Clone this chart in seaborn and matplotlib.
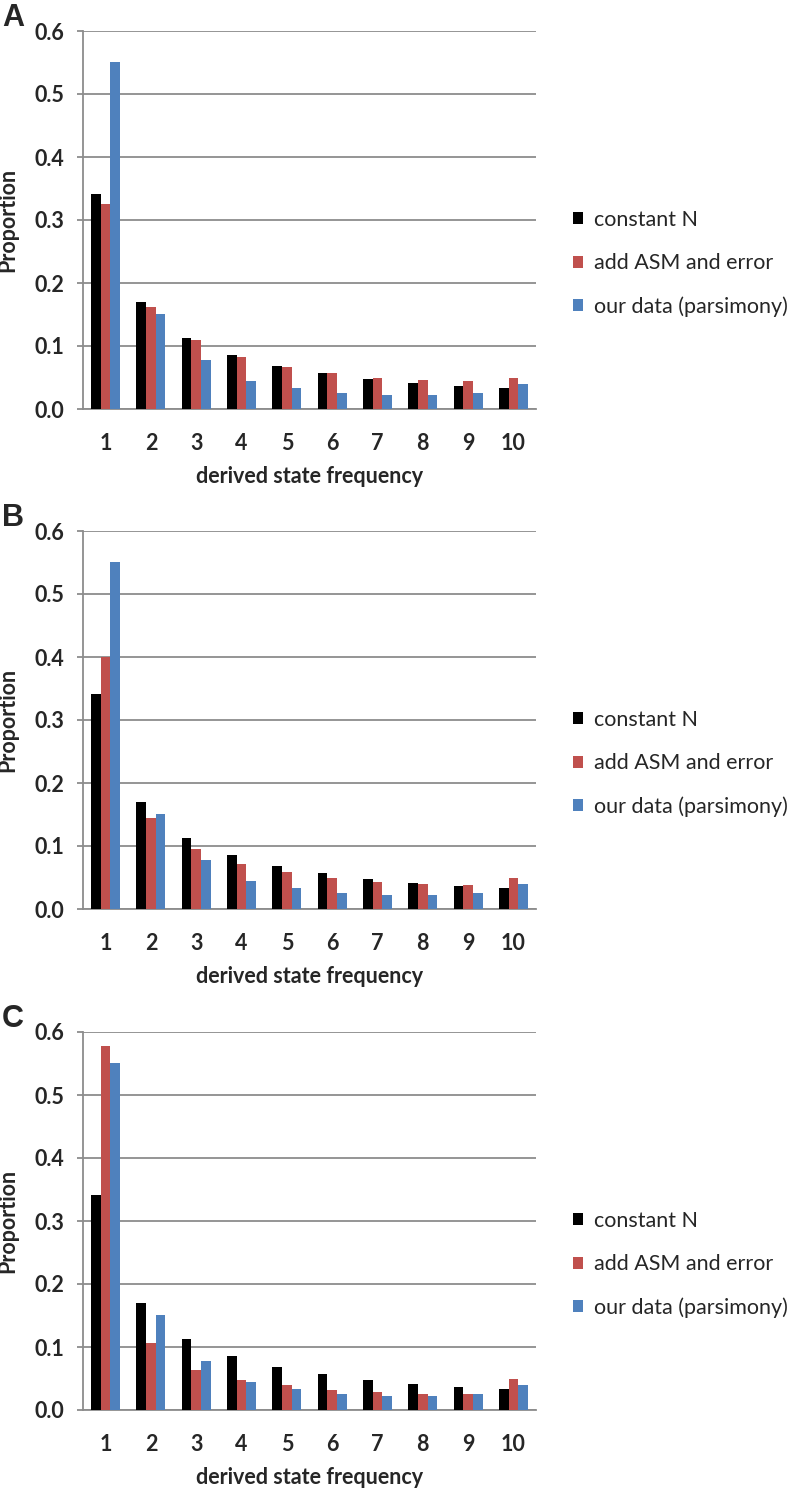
import numpy as np
import pandas as pd
import matplotlib
matplotlib.use('Agg')
import matplotlib.pyplot as plt
from matplotlib.patches import Patch
import seaborn as sns

# values
freq = [1, 2, 3, 4, 5, 6, 7, 8, 9, 10]
constant_n = [0.341, 0.170, 0.113, 0.085, 0.068, 0.057, 0.048, 0.042, 0.037, 0.034]
our_data = [0.551, 0.151, 0.077, 0.044, 0.033, 0.026, 0.023, 0.023, 0.026, 0.040]
asm_error_a = [0.325, 0.162, 0.110, 0.083, 0.067, 0.057, 0.050, 0.046, 0.044, 0.049]
asm_error_b = [0.400, 0.144, 0.096, 0.072, 0.058, 0.049, 0.043, 0.039, 0.038, 0.049]
asm_error_c = [0.577, 0.107, 0.063, 0.047, 0.039, 0.032, 0.028, 0.026, 0.026, 0.049]

series_names = ['constant N', 'add ASM and error', 'our data (parsimony)']
colors = ['#000000', '#C0504D', '#4F81BD']
panel_labels = ['A', 'B', 'C']
y_ticks = [0.0, 0.1, 0.2, 0.3, 0.4, 0.5, 0.6]

sns.set_style('white')
plt.rcParams['font.family'] = ['Lato', 'DejaVu Sans']

W, H = 796, 1490
fig = plt.figure(figsize=(W / 100, H / 100), dpi=100)

grey = '#8c8c8c'
ax_left, ax_right = 83, 536
tops = [31, 531, 1032]
ax_h = 378

for label, asm, top in zip(panel_labels, [asm_error_a, asm_error_b, asm_error_c], tops):
    ax = fig.add_axes([ax_left / W, 1 - (top + ax_h) / H, (ax_right - ax_left) / W, ax_h / H])

    df = pd.DataFrame({
        'freq': freq * 3,
        'value': constant_n + asm + our_data,
        'series': [s for s in series_names for _ in freq],
    })
    sns.barplot(data=df, x='freq', y='value', hue='series', hue_order=series_names,
                palette=colors, saturation=1, width=0.64, gap=0, linewidth=0,
                legend=False, ax=ax, zorder=3)

    ax.set_xlim(-0.5, 9.5)
    ax.set_ylim(0, 0.6)
    ax.set_yticks(y_ticks)
    ax.set_yticklabels([f'{v:.1f}' for v in y_ticks])
    ax.yaxis.grid(True, color=grey, linewidth=1.3, zorder=0)
    ax.set_axisbelow(True)

    for side in ['top', 'right']:
        ax.spines[side].set_visible(False)
    for side in ['left', 'bottom']:
        ax.spines[side].set_color(grey)
        ax.spines[side].set_linewidth(1.3)

    ax.set_xticks(np.arange(-0.5, 10, 1), minor=True)
    ax.tick_params(axis='x', which='major', length=0, pad=17, labelsize=15.5)
    ax.tick_params(axis='x', which='minor', length=4.5, width=1.3, color=grey, direction='out')
    ax.tick_params(axis='y', length=4.5, width=1.3, color=grey, direction='out', pad=9, labelsize=15.5)
    ax.tick_params(left=True, bottom=True)
    for t in ax.get_xticklabels() + ax.get_yticklabels():
        t.set_fontweight('bold')

    ax.set_xlabel('derived state frequency', fontsize=15.5, fontweight='bold')
    ax.set_ylabel('Proportion', fontsize=15.5, fontweight='bold')
    ax.xaxis.set_label_coords(0.5, -0.152)
    ax.yaxis.set_label_coords(-0.143, 0.5)

    handles = [Patch(facecolor=c, edgecolor='none') for c in colors]
    ax.legend(handles, series_names, loc='center left', bbox_to_anchor=(1.062, 0.385),
              frameon=False, fontsize=15.5, handlelength=0.48, handleheight=0.48,
              handletextpad=0.5, labelspacing=1.07, borderaxespad=0)

    fig.text(2 / W, 1 - (top - 28) / H, label, fontsize=22, fontweight='bold',
             family='Liberation Sans', va='top', ha='left')

fig.savefig('out.png', dpi=100)
